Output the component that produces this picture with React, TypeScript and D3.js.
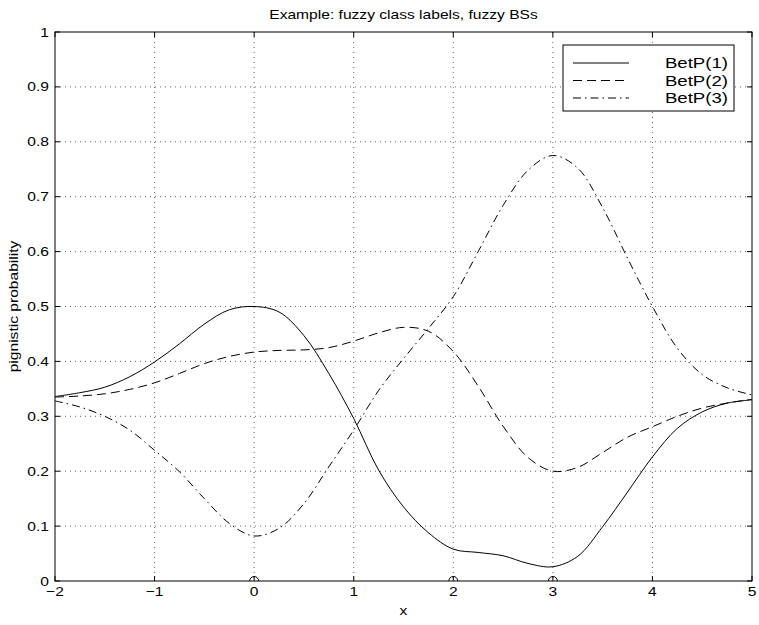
import React from "react";
import * as d3 from "d3";

const xs = [
  -2, -1.75, -1.5, -1.25, -1, -0.75, -0.5, -0.25, 0, 0.25, 0.5, 0.75, 1, 1.25, 1.5,
  1.75, 2, 2.25, 2.5, 2.75, 3, 3.25, 3.5, 3.75, 4, 4.25, 4.5, 4.75, 5,
];
const betP1 = [
  0.336, 0.343, 0.353, 0.372, 0.399, 0.432, 0.468, 0.494, 0.5, 0.49, 0.447, 0.378, 0.296,
  0.202, 0.135, 0.088, 0.058, 0.052, 0.046, 0.032, 0.026, 0.045, 0.099, 0.162, 0.226, 0.278,
  0.308, 0.324, 0.33,
];
const betP2 = [
  0.335, 0.337, 0.341, 0.349, 0.361, 0.378, 0.396, 0.409, 0.417, 0.42, 0.421, 0.425, 0.437,
  0.452, 0.462, 0.455, 0.418, 0.355, 0.282, 0.225, 0.2, 0.207, 0.234, 0.262, 0.281, 0.3,
  0.315, 0.324, 0.331,
];
const betP3 = [
  0.328, 0.317, 0.3, 0.275, 0.238, 0.199, 0.15, 0.105, 0.082, 0.096, 0.141, 0.208, 0.275,
  0.347, 0.405, 0.46, 0.518, 0.6, 0.684, 0.748, 0.775, 0.752, 0.68, 0.588, 0.5, 0.424,
  0.376, 0.352, 0.339,
];
const prototypes = [0, 2, 3];
const seriesNames = ["BetP(1)", "BetP(2)", "BetP(3)"];
const xTicks = [-2, -1, 0, 1, 2, 3, 4, 5];
const yTicks = [0, 0.1, 0.2, 0.3, 0.4, 0.5, 0.6, 0.7, 0.8, 0.9, 1];

const W = 759;
const H = 625;
const margin = { top: 32, right: 7, bottom: 44, left: 55 };
const font = "'Liberation Sans', Arial, Helvetica, sans-serif";
const SX = 1.2; // the reference text is drawn wider than Arial

// text stretched horizontally like the reference's
const Txt = ({ x, y, size, anchor = "middle", rotate = 0, dy = "0", children }: any) => (
  <g transform={`translate(${x},${y}) rotate(${rotate}) scale(${SX},1)`}>
    <text textAnchor={anchor} fontSize={size} dy={dy}>
      {children}
    </text>
  </g>
);

export default function App() {
  const iw = W - margin.left - margin.right;
  const ih = H - margin.top - margin.bottom;
  const x = d3.scaleLinear().domain([-2, 5]).range([0, iw]);
  const y = d3.scaleLinear().domain([0, 1]).range([ih, 0]);

  const line = d3
    .line<number>()
    .x((_, i) => x(xs[i]))
    .y((d) => y(d))
    .curve(d3.curveCatmullRom.alpha(0.5));

  const series = [betP1, betP2, betP3];
  const dashes = ["none", "9,5", "8,4,1.5,4"];
  const fmt = (v: number) => (v < 0 ? "\u2212" + Math.abs(v) : String(v));
  const tickLen = 5;

  return (
    <svg
      width={W}
      height={H}
      style={{ position: "absolute", left: 0, top: 0, background: "#fff" }}
      fontFamily={font}
    >
      <defs>
        <clipPath id="plot">
          <rect x={0} y={0} width={iw} height={ih} />
        </clipPath>
      </defs>
      <rect width={W} height={H} fill="#fff" />
      <Txt x={margin.left + iw / 2} y={19} size={13}>
        Example: fuzzy class labels, fuzzy BSs
      </Txt>
      <g transform={`translate(${margin.left},${margin.top})`}>
        {/* grid */}
        {xTicks.slice(1, -1).map((t) => (
          <line key={"gx" + t} x1={x(t)} x2={x(t)} y1={0} y2={ih} stroke="#666" strokeDasharray="1,4" />
        ))}
        {yTicks.slice(1, -1).map((t) => (
          <line key={"gy" + t} x1={0} x2={iw} y1={y(t)} y2={y(t)} stroke="#666" strokeDasharray="1,4" />
        ))}

        {/* curves */}
        <g clipPath="url(#plot)">
          {series.map((s, i) => (
            <path
              key={i}
              d={line(s) || ""}
              fill="none"
              stroke="#000"
              strokeWidth={1}
              strokeDasharray={dashes[i]}
            />
          ))}
          {prototypes.map((p) => (
            <circle key={"p" + p} cx={x(p)} cy={y(0)} r={4.5} fill="none" stroke="#000" strokeWidth={1} />
          ))}
        </g>

        {/* frame and ticks */}
        <rect x={0} y={0} width={iw} height={ih} fill="none" stroke="#000" strokeWidth={1} />
        {xTicks.map((t) => (
          <g key={"tx" + t}>
            <line x1={x(t)} x2={x(t)} y1={ih} y2={ih - tickLen} stroke="#000" />
            <line x1={x(t)} x2={x(t)} y1={0} y2={tickLen} stroke="#000" />
            <Txt x={x(t)} y={ih + 15} size={13}>
              {fmt(t)}
            </Txt>
          </g>
        ))}
        {yTicks.map((t) => (
          <g key={"ty" + t}>
            <line x1={0} x2={tickLen} y1={y(t)} y2={y(t)} stroke="#000" />
            <line x1={iw} x2={iw - tickLen} y1={y(t)} y2={y(t)} stroke="#000" />
            <Txt x={-6} y={y(t)} dy="0.35em" anchor="end" size={13}>
              {fmt(t)}
            </Txt>
          </g>
        ))}

        <Txt x={iw / 2} y={ih + 34} size={13}>
          x
        </Txt>
        <Txt x={-37} y={ih / 2} rotate={-90} size={13}>
          pignistic probability
        </Txt>

        {/* legend */}
        <g transform={`translate(${563 - margin.left},${45 - margin.top})`}>
          <rect x={0} y={0} width={171} height={66} fill="#fff" stroke="#000" strokeWidth={1} />
          {seriesNames.map((name, i) => (
            <g key={name}>
              <line
                x1={10}
                x2={66}
                y1={18 + i * 17.5}
                y2={18 + i * 17.5}
                stroke="#000"
                strokeDasharray={dashes[i]}
              />
              <Txt x={165} y={18 + i * 17.5} dy="0.35em" anchor="end" size={15.5}>
                {name}
              </Txt>
            </g>
          ))}
        </g>
      </g>
    </svg>
  );
}
